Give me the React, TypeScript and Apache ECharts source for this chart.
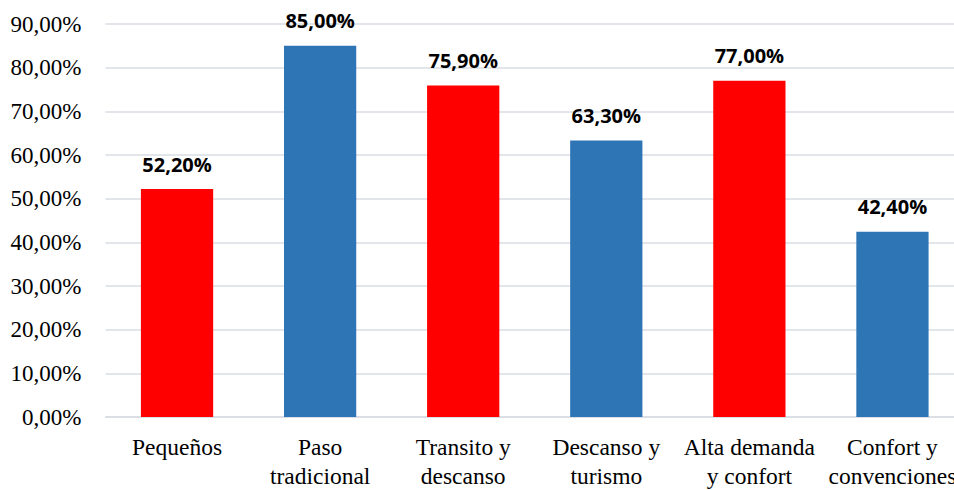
import React, { useEffect, useRef } from "react";
import * as echarts from "echarts";

const categories = [
  "Pequeños",
  "Paso\ntradicional",
  "Transito y\ndescanso",
  "Descanso y\nturismo",
  "Alta demanda\ny confort",
  "Confort y\nconvenciones",
];
const values = [52.2, 85.0, 75.9, 63.3, 77.0, 42.4];
const barColors = ["#FF0000", "#2E75B6", "#FF0000", "#2E75B6", "#FF0000", "#2E75B6"];

const fmt = (v: number) => v.toFixed(2).replace(".", ",") + "%";
const serif = "'Liberation Serif', 'Times New Roman', serif";

export default function App() {
  const ref = useRef<HTMLDivElement>(null);
  useEffect(() => {
    if (!ref.current) return;
    const chart = echarts.init(ref.current, null, { renderer: "svg" });
    chart.setOption({
      animation: false,
      backgroundColor: "#ffffff",
      grid: { left: 105.5, right: 0, top: 24, bottom: 66, containLabel: false },
      xAxis: {
        type: "category",
        data: categories,
        axisLine: { show: true, lineStyle: { color: "#d9dde3", width: 1.5 } },
        axisTick: { show: false },
        axisLabel: {
          interval: 0,
          margin: 15,
          fontFamily: serif,
          fontSize: 23.5,
          lineHeight: 29,
          color: "#000000",
        },
      },
      yAxis: {
        type: "value",
        min: 0,
        max: 90,
        interval: 10,
        axisLine: { show: false },
        axisTick: { show: false },
        splitLine: { lineStyle: { color: "#d9dde3", width: 1.5 } },
        axisLabel: {
          margin: 24,
          fontFamily: serif,
          fontSize: 23,
          color: "#000000",
          formatter: (v: number) => fmt(v),
        },
      },
      series: [
        {
          type: "bar",
          barWidth: "50.5%",
          data: values.map((v, i) => ({ value: v, itemStyle: { color: barColors[i] } })),
          label: {
            show: true,
            position: "top",
            distance: 15,
            fontFamily: "'Open Sans', sans-serif",
            fontWeight: "bold",
            fontSize: 20,
            color: "#000000",
            formatter: (p: any) => fmt(p.value),
          },
        },
      ],
    });
    return () => chart.dispose();
  }, []);
  return (
    <div
      style={{
        position: "fixed",
        left: 0,
        top: 0,
        width: 954,
        height: 490,
        overflow: "hidden",
        background: "#ffffff",
      }}
    >
      <div ref={ref} style={{ width: 964, height: 490 }} />
    </div>
  );
}
